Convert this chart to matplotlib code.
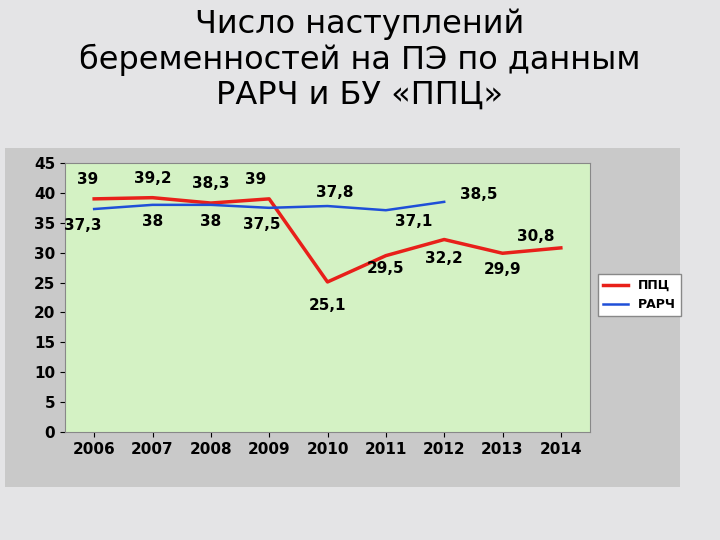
import matplotlib
matplotlib.use("Agg")
import matplotlib.pyplot as plt

years = ["2006","2007","2008","2009","2010","2011","2012","2013","2014"]
ppc = [39, 39.2, 38.3, 39, 25.1, 29.5, 32.2, 29.9, 30.8]
rarch = [37.3, 38, 38, 37.5, 37.8, 37.1, 38.5]
ppc_labels = ["39","39,2","38,3","39","25,1","29,5","32,2","29,9","30,8"]
rarch_labels = ["37,3","38","38","37,5","37,8","37,1","38,5"]

fig = plt.figure(figsize=(7.2,5.4), dpi=100)
fig.patch.set_facecolor("#e4e4e6")
fig.text(0.5, 0.985, "Число наступлений\nбеременностей на ПЭ по данным\nРАРЧ и БУ «ППЦ»",
         ha="center", va="top", fontsize=23, linespacing=1.15, family="DejaVu Sans")
panel = fig.add_axes([5/720, 1-487/540, 675/720, 339/540])
panel.set_facecolor("#c9c9c9"); panel.set_xticks([]); panel.set_yticks([])
for s in panel.spines.values(): s.set_visible(False)

ax = fig.add_axes([65/720, 1-432/540, 525/720, 269/540])
ax.set_facecolor("#d4f2c4")
x = list(range(len(years)))
ax.plot(x, ppc, color="#e8201a", lw=2.5, label="ППЦ")
ax.plot(x[:len(rarch)], rarch, color="#1f4fd8", lw=1.8, label="РАРЧ")
ax.set_xlim(-0.5, len(years)-0.5); ax.set_ylim(0, 45)
ax.set_yticks(range(0, 46, 5))
ax.set_xticks(x); ax.set_xticklabels(years)
ax.tick_params(labelsize=11)
for t in ax.get_xticklabels()+ax.get_yticklabels(): t.set_fontweight("bold")
for s in ax.spines.values(): s.set_color("#888888")
ppc_off = [(-5,14),(0,14),(0,14),(-10,14),(0,-17),(0,-9),(0,-14),(0,-12),(-18,8)]
for i,(v,l) in enumerate(zip(ppc, ppc_labels)):
    ax.annotate(l, (i, v), xytext=ppc_off[i], textcoords="offset points",
                ha="center", va="center", fontsize=11, fontweight="bold")
r_off = [(-8,-12),(0,-12),(0,-12),(-5,-12),(5,10),(20,-8),(25,5)]
for i,(v,l) in enumerate(zip(rarch, rarch_labels)):
    ax.annotate(l, (i, v), xytext=r_off[i], textcoords="offset points",
                ha="center", va="center", fontsize=11, fontweight="bold")
leg = fig.legend(loc="upper left", bbox_to_anchor=(592/720, 1-268/540),
                 prop={"weight":"bold","size":9}, fancybox=False, edgecolor="#888888", framealpha=1)
fig.savefig("out.png", dpi=100, facecolor=fig.get_facecolor())
